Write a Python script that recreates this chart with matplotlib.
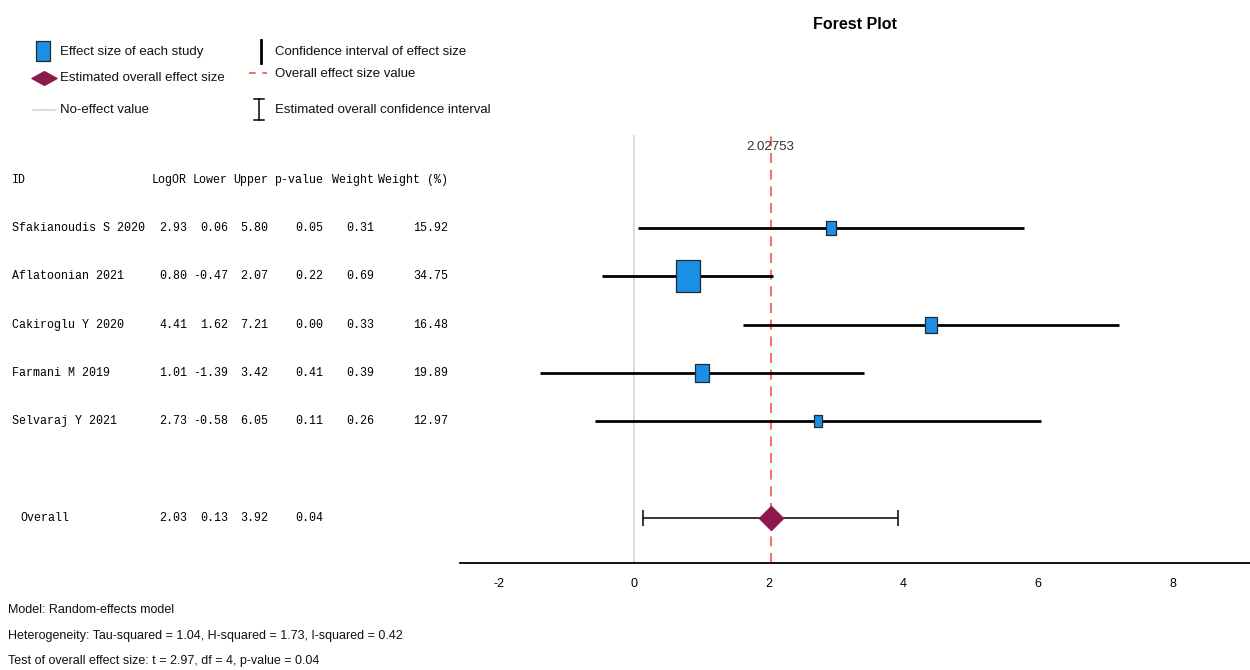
import matplotlib.pyplot as plt
import matplotlib.transforms as mtransforms
from matplotlib.path import Path
from matplotlib.lines import Line2D

# study level results (log odds ratio scale)
studies = ["Sfakianoudis S 2020", "Aflatoonian 2021", "Cakiroglu Y 2020",
           "Farmani M 2019", "Selvaraj Y 2021"]
log_or = [2.93, 0.80, 4.41, 1.01, 2.73]
lower = [0.06, -0.47, 1.62, -1.39, -0.58]
upper = [5.80, 2.07, 7.21, 3.42, 6.05]
p_value = [0.05, 0.22, 0.00, 0.41, 0.11]
weight = [0.31, 0.69, 0.33, 0.39, 0.26]
weight_pct = [15.92, 34.75, 16.48, 19.89, 12.97]

# pooled estimate
overall_est = 2.02753
overall_lower = 0.13
overall_upper = 3.92
overall_p = 0.04

x_ticks = [-2, 0, 2, 4, 6, 8]
headers = ["LogOR", "Lower", "Upper", "p-value", "Weight", "Weight (%)"]
notes = ["Model: Random-effects model",
         "Heterogeneity: Tau-squared = 1.04, H-squared = 1.73, I-squared = 0.42",
         "Test of overall effect size: t = 2.97, df = 4, p-value = 0.04"]

SANS = ["Liberation Sans", "DejaVu Sans"]
MONO = ["Liberation Mono", "DejaVu Sans Mono"]
BLUE = "#1a8fe6"
MAROON = "#8c1a4c"
RED = "#ff4d4d"

fig = plt.figure(figsize=(12.5, 6.7), dpi=100)

# overlay in pixel units for legend, table and notes
lay = fig.add_axes([0, 0, 1, 1])
lay.set_xlim(0, 1250)
lay.set_ylim(670, 0)
lay.axis("off")

ax = fig.add_axes([460 / 1250, 1 - 563 / 670, 790 / 1250, 428 / 670])
ax.set_xlim(-2.585, 9.15)
ax.set_ylim(6.94, -1.93)

rows = list(range(len(studies)))
overall_row = len(studies) + 1

# no-effect and pooled-effect reference lines
ax.axvline(0, color="#d4d4d4", lw=1.2, zorder=1)
ax.axvline(overall_est, color=RED, lw=1.2, dashes=(6, 4), zorder=1)
ax.text(overall_est, -1.68, f"{overall_est:.5f}", ha="center", va="center",
        fontsize=9.5, color="#333333", family=SANS)

# confidence intervals and study boxes scaled by weight
box = Path([(-0.36, -0.5), (0.36, -0.5), (0.36, 0.5), (-0.36, 0.5), (-0.36, -0.5)],
           [Path.MOVETO, Path.LINETO, Path.LINETO, Path.LINETO, Path.CLOSEPOLY])
for r, est, lo, hi, w in zip(rows, log_or, lower, upper, weight_pct):
    ax.plot([lo, hi], [r, r], color="black", lw=2.0, solid_capstyle="butt", zorder=2)
    ax.plot(est, r, marker=box, markersize=0.67 * w, markerfacecolor=BLUE,
            markeredgecolor="#1f2a33", markeredgewidth=0.9, zorder=3)

# pooled estimate with its interval
ax.errorbar(overall_est, overall_row,
            xerr=[[overall_est - overall_lower], [overall_upper - overall_est]],
            fmt="none", ecolor="black", elinewidth=1.1, capsize=6, capthick=1.1, zorder=2)
ax.plot(overall_est, overall_row, marker="D", markersize=12, color=MAROON, zorder=3)

for side in ["left", "right", "top"]:
    ax.spines[side].set_visible(False)
ax.spines["bottom"].set_linewidth(1.3)
ax.set_yticks([])
ax.set_xticks(x_ticks)
ax.set_xticklabels([str(t) for t in x_ticks], family=SANS, fontsize=9)
ax.tick_params(axis="x", length=0, pad=11)
ax.set_title("Forest Plot", fontsize=11.5, fontweight="bold", family=SANS, y=1.228)

# table to the left of the plot
tr = mtransforms.blended_transform_factory(lay.transData, ax.transData)
col_right = [187, 228, 268, 323, 374, 448]
tkw = dict(transform=tr, fontsize=8.4, family=MONO, va="center", color="black")
ax.text(12, -1, "ID", ha="left", **tkw)
for x, h in zip(col_right, headers):
    ax.text(x, -1, h, ha="right", **tkw)
for r, name in zip(rows, studies):
    vals = [log_or[r], lower[r], upper[r], p_value[r], weight[r], weight_pct[r]]
    ax.text(12, r, name, ha="left", **tkw)
    for x, v in zip(col_right, vals):
        ax.text(x, r, f"{v:.2f}", ha="right", **tkw)
ax.text(20, overall_row, "Overall", ha="left", **tkw)
for x, v in zip(col_right, [overall_est, overall_lower, overall_upper, overall_p]):
    ax.text(x, overall_row, f"{v:.2f}", ha="right", **tkw)

# legend
lkw = dict(fontsize=9.5, family=SANS, va="center", color="#111111")
flat_diamond = Path([(-1, 0), (0, 0.55), (1, 0), (0, -0.55), (-1, 0)],
                    [Path.MOVETO, Path.LINETO, Path.LINETO, Path.LINETO, Path.CLOSEPOLY])
lay.add_line(Line2D([43], [51], marker=box, markersize=14, markerfacecolor=BLUE,
                    markeredgecolor="#1f2a33", markeredgewidth=0.9))
lay.text(60, 52, "Effect size of each study", **lkw)
lay.add_line(Line2D([44], [78], marker=flat_diamond, markersize=18, color=MAROON))
lay.text(60, 78, "Estimated overall effect size", **lkw)
lay.add_line(Line2D([33, 55], [110, 110], color="#d4d4d4", lw=1.2))
lay.text(60, 110, "No-effect value", **lkw)
lay.add_line(Line2D([261, 261], [40, 63], color="black", lw=2.0))
lay.text(275, 52, "Confidence interval of effect size", **lkw)
lay.add_line(Line2D([249, 267], [73, 73], color=RED, lw=1.2, dashes=(4, 4)))
lay.text(275, 74, "Overall effect size value", **lkw)
lay.add_line(Line2D([259, 259], [99, 120], color="black", lw=1.1))
lay.add_line(Line2D([254, 264], [99, 99], color="black", lw=1.1))
lay.add_line(Line2D([254, 264], [120, 120], color="black", lw=1.1))
lay.text(275, 110, "Estimated overall confidence interval", **lkw)

# model notes
for i, line in enumerate(notes):
    lay.text(8, 610 + 25.5 * i, line, fontsize=9, family=SANS, va="center", color="#111111")

fig.savefig("out.png", dpi=100)
